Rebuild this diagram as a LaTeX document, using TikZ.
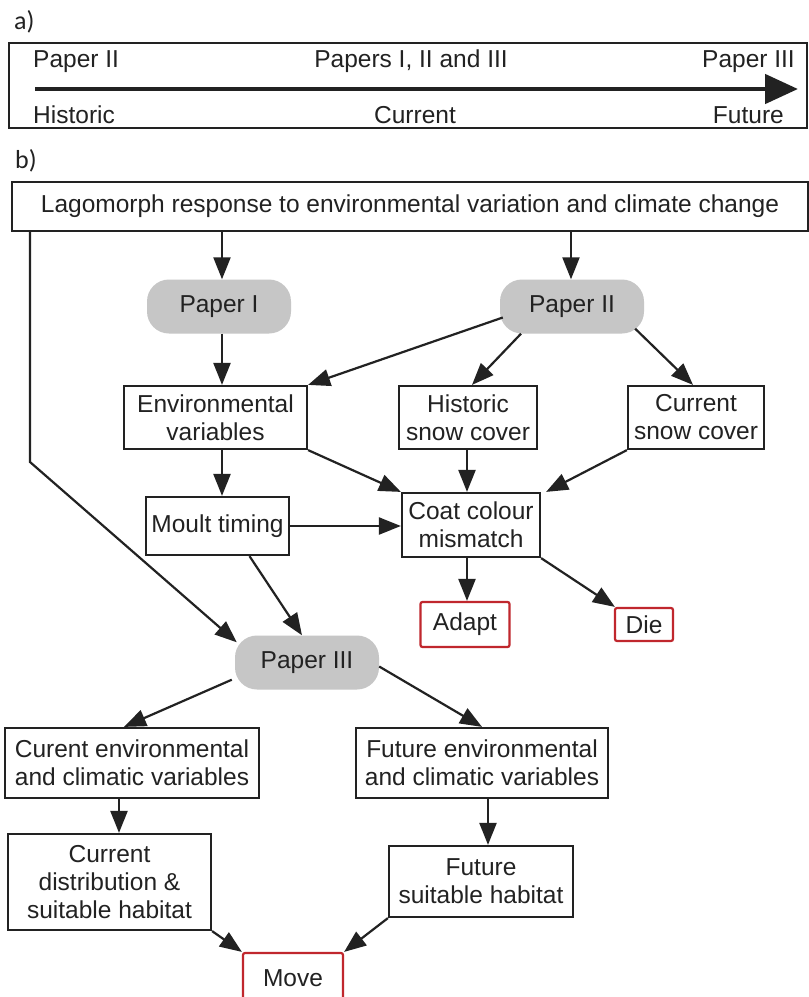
\documentclass[tikz,border=0pt]{standalone}
\usepackage{fontspec}
\setmainfont{Liberation Sans}
\newfontfamily\labelfont{Carlito}
\usetikzlibrary{arrows.meta,calc}
\definecolor{papergray}{HTML}{C6C6C6}
\definecolor{boxred}{HTML}{C0272D}
\definecolor{inkc}{HTML}{222222}
\begin{document}
\begin{tikzpicture}[x=1pt,y=-1pt,
  every node/.style={font=\fontsize{24.5}{28}\selectfont, text=inkc, inner sep=0pt, align=center},
  box/.style={draw=inkc, line width=2.2pt, fill=white},
  redbox/.style={draw=boxred, line width=2.2pt, fill=white, rounded corners=2pt},
  paper/.style={fill=papergray, rounded corners=22pt, minimum width=144pt, minimum height=54pt},
  conn/.style={draw=inkc, line width=2.2pt, -{Triangle[length=22pt,width=17pt]}},
  lbl/.style={font=\labelfont\fontsize{26}{28}\selectfont, anchor=base west}
]
\useasboundingbox (0,0) rectangle (809,997);
\clip (0,0) rectangle (809,997);
\fill[white] (0,0) rectangle (809,997);

% ---------- panel a ----------
\node[lbl] (la) at (14,29) {a)};
\node[box, minimum width=798pt, minimum height=85pt, fill=none] (abox) at (408,85.5) {};
\node[anchor=base west] (t1) at (33,67) {Paper II};
\node[anchor=base] (t2) at (411,67) {Papers I, II and III};
\node[anchor=base east] (t3) at (795,67) {Paper III};
\node[anchor=base west] (t4) at (33,123) {Historic};
\node[anchor=base] (t5) at (415,123) {Current};
\node[anchor=base east] (t6) at (784,123) {Future};
\coordinate (aL) at (35,89);
\coordinate (aR) at (798,89);
\draw[draw=inkc, line width=4.8pt, -{Triangle[length=33pt,width=29pt]}] (aL) -- (aR);

% ---------- panel b ----------
\node[lbl] (lb) at (15,168) {b)};
\node[box, minimum width=796pt, minimum height=49pt] (top) at (410,206.5)
  {Lagomorph response to environmental variation and climate change};

\node[paper] (p1) at (219,306.5) {Paper I};
\node[paper] (p2) at (572,306.5) {Paper II};

\node[box, minimum width=183pt, minimum height=63pt] (env) at (215.5,417.5) {Environmental\\variables};
\node[box, minimum width=138pt, minimum height=63pt] (hist) at (468,417.5) {Historic\\snow cover};
\node[box, minimum width=136pt, minimum height=63pt] (cur) at (696,417.5) {Current\\snow cover};

\node[box, minimum width=143pt, minimum height=58pt] (moult) at (217.5,526) {Moult timing};
\node[box, minimum width=138pt, minimum height=64pt] (coat) at (471,525) {Coat colour\\mismatch};

\node[redbox, minimum width=89pt, minimum height=45pt] (adapt) at (465,624.5) {Adapt};
\node[redbox, minimum width=58pt, minimum height=33pt] (die) at (644,624.5) {Die};

\node[paper] (p3) at (307,662.5) {Paper III};

\node[box, minimum width=254pt, minimum height=70pt] (cenv) at (132,763) {Curent environmental\\and climatic variables};
\node[box, minimum width=252pt, minimum height=70pt] (fenv) at (482,763) {Future environmental\\and climatic variables};

\node[box, minimum width=203pt, minimum height=96pt] (cdist) at (109.5,882) {Current\\distribution \&\\suitable habitat};
\node[box, minimum width=184pt, minimum height=71pt] (fsuit) at (481,881.5) {Future\\suitable habitat};

\node[redbox, minimum width=100pt, minimum height=50pt] (move) at (293,978) {Move};

% ---------- connectors ----------
\path (p1.north) ++(3,0) coordinate (p1n);
\path (p2.north) ++(-1,0) coordinate (p2n);
\draw[conn] (p1n |- top.south) -- (p1n);
\draw[conn] (p2n |- top.south) -- (p2n);
\draw[conn] (p1n |- p1.south) -- (p1n |- env.north);

\draw[conn] ($(p2.west)+(3,11)$) -- (env.north east);
\draw[conn] ($(p2.south)+(-51,0)$) -- ($(hist.north)+(4,0)$);
\draw[conn] ($(p2.south east)+(-9,-5)$) -- ($(cur.north)+(-3,0)$);

\draw[conn] (p1n |- env.south) -- (p1n |- moult.north);
\draw[conn] (env.south east) -- (coat.north west);
\path (hist.south) ++(-1,0) coordinate (hs);
\draw[conn] (hs) -- (hs |- coat.north);
\draw[conn] (cur.south west) -- ($(coat.north east)+(5,0)$);
\draw[conn] (moult.east) -- (moult.east -| coat.west);
\draw[conn] ($(moult.south)+(32,0)$) -- ($(p3.north)+(-5,0)$);

\path (coat.south) ++(-4,0) coordinate (cs);
\draw[conn] (cs) -- (cs |- adapt.north);
\draw[conn] (coat.south east) -- ($(die.north west)+(1,0)$);

\coordinate (lbend) at (30,462);
\draw[conn] (lbend |- top.south) -- (lbend) -- ($(p3.north west)+(2,7)$);

\draw[conn] ($(p3.south west)+(-3,-10)$) -- ($(cenv.north)+(-8,0)$);
\draw[conn] ($(p3.east)+(0,4)$) -- (fenv.north);

\path (cenv.south) ++(-13,0) coordinate (c1);
\draw[conn] (c1) -- (c1 |- cdist.north);
\path (fenv.south) ++(6,0) coordinate (c2);
\draw[conn] (c2) -- (c2 |- fsuit.north);

\draw[conn] (cdist.south east) -- (move.north west);
\draw[conn] (fsuit.south west) -- (move.north east);
\end{tikzpicture}
\end{document}
